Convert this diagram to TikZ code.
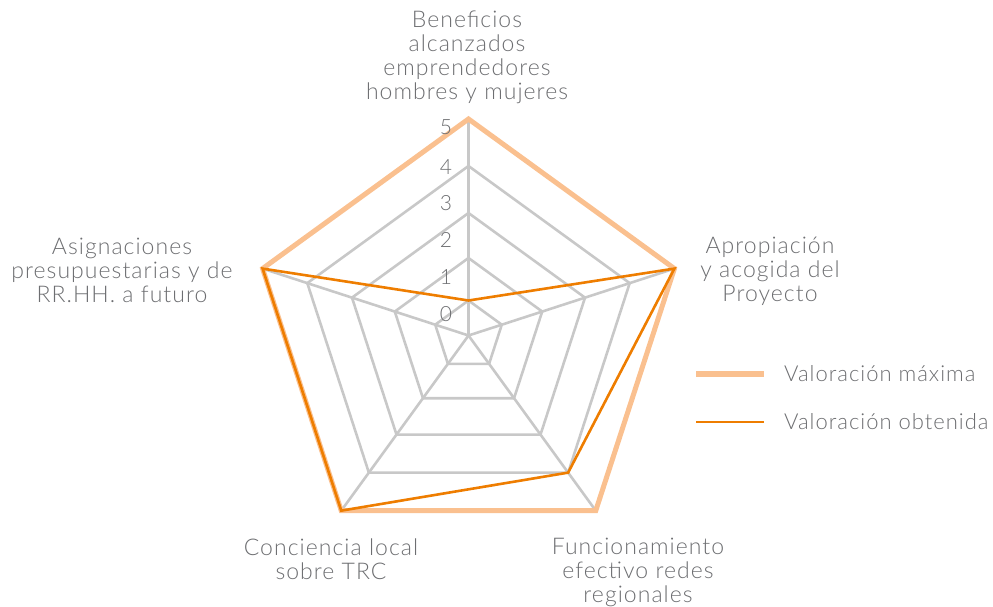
\documentclass[tikz,border=0pt]{standalone}
\usepackage{fontspec}
\setmainfont{Lato Light}[LetterSpace=4.5]
\definecolor{gridgray}{HTML}{C8C8C8}
\definecolor{maxorange}{HTML}{FAC08F}
\definecolor{objorange}{HTML}{EE7D00}
\definecolor{txtgray}{HTML}{6D6E71}
\begin{document}
\begin{tikzpicture}[x=1pt,y=-1pt,
  gridline/.style={draw=gridgray,line width=2.6pt,line join=miter},
  maxline/.style={draw=maxorange,line width=5pt,line join=miter},
  obtline/.style={draw=objorange,line width=2.6pt,line join=miter},
  axlabel/.style={text=txtgray,font=\fontsize{23}{24}\selectfont,align=center,inner sep=0pt},
  ticklabel/.style={text=txtgray,font=\fontsize{21}{21}\selectfont,inner sep=0pt},
  legtext/.style={text=txtgray,font=\fontsize{22}{24}\selectfont,anchor=west,inner sep=0pt},
]
\useasboundingbox (0,0) rectangle (993,607);
\coordinate (C) at (468.5,335.5);
% ring vertices
\foreach \r [count=\i] in {35,77.5,122.5,169.5,216.5} {
  \coordinate (t\i) at ([shift={(-90:\r)}]C);
  \coordinate (r\i) at ([shift={(-18:\r)}]C);
  \coordinate (br\i) at ([shift={(54:\r)}]C);
  \coordinate (bl\i) at ([shift={(126:\r)}]C);
  \coordinate (l\i) at ([shift={(198:\r)}]C);
}
% grid
\foreach \i in {1,...,5} {
  \draw[gridline] (t\i) -- (r\i) -- (br\i) -- (bl\i) -- (l\i) -- cycle;
}
\foreach \n in {t,r,br,bl,l} {
  \draw[gridline] (C) -- (\n5);
}
% series
\draw[maxline] (t5) -- (r5) -- (br5) -- (bl5) -- (l5) -- cycle;
\draw[obtline] (t1) -- (r5) -- (br4) -- (bl5) -- (l5) -- cycle;
% tick labels
\node[ticklabel] (tk5) at (446,127) {5};
\node[ticklabel] (tk4) at (446,167) {4};
\node[ticklabel] (tk3) at (446,203) {3};
\node[ticklabel] (tk2) at (446,240) {2};
\node[ticklabel] (tk1) at (446,277) {1};
\node[ticklabel] (tk0) at (446,314) {0};
% axis labels
\node[axlabel] (lbltop) at (467,57) {Beneficios\\alcanzados\\emprendedores\\hombres y mujeres};
\node[axlabel] (lblright) at (770,271) {Apropiación\\y acogida del\\Proyecto};
\node[axlabel] (lblbr) at (638,572) {Funcionamiento\\efectivo redes\\regionales};
\node[axlabel] (lblbl) at (331,559) {Conciencia local\\sobre TRC};
\node[axlabel] (lblleft) at (122,270) {Asignaciones\\presupuestarias y de\\RR.HH. a futuro};
% legend
\coordinate (lgAa) at (696,374);
\coordinate (lgAb) at (764,374);
\coordinate (lgBa) at (696,422);
\coordinate (lgBb) at (764,422);
\draw[draw=maxorange,line width=6pt] (lgAa) -- (lgAb);
\draw[obtline] (lgBa) -- (lgBb);
\node[legtext] (legA) at (784,374) {Valoración máxima};
\node[legtext] (legB) at (784,422) {Valoración obtenida};
\end{tikzpicture}
\end{document}
